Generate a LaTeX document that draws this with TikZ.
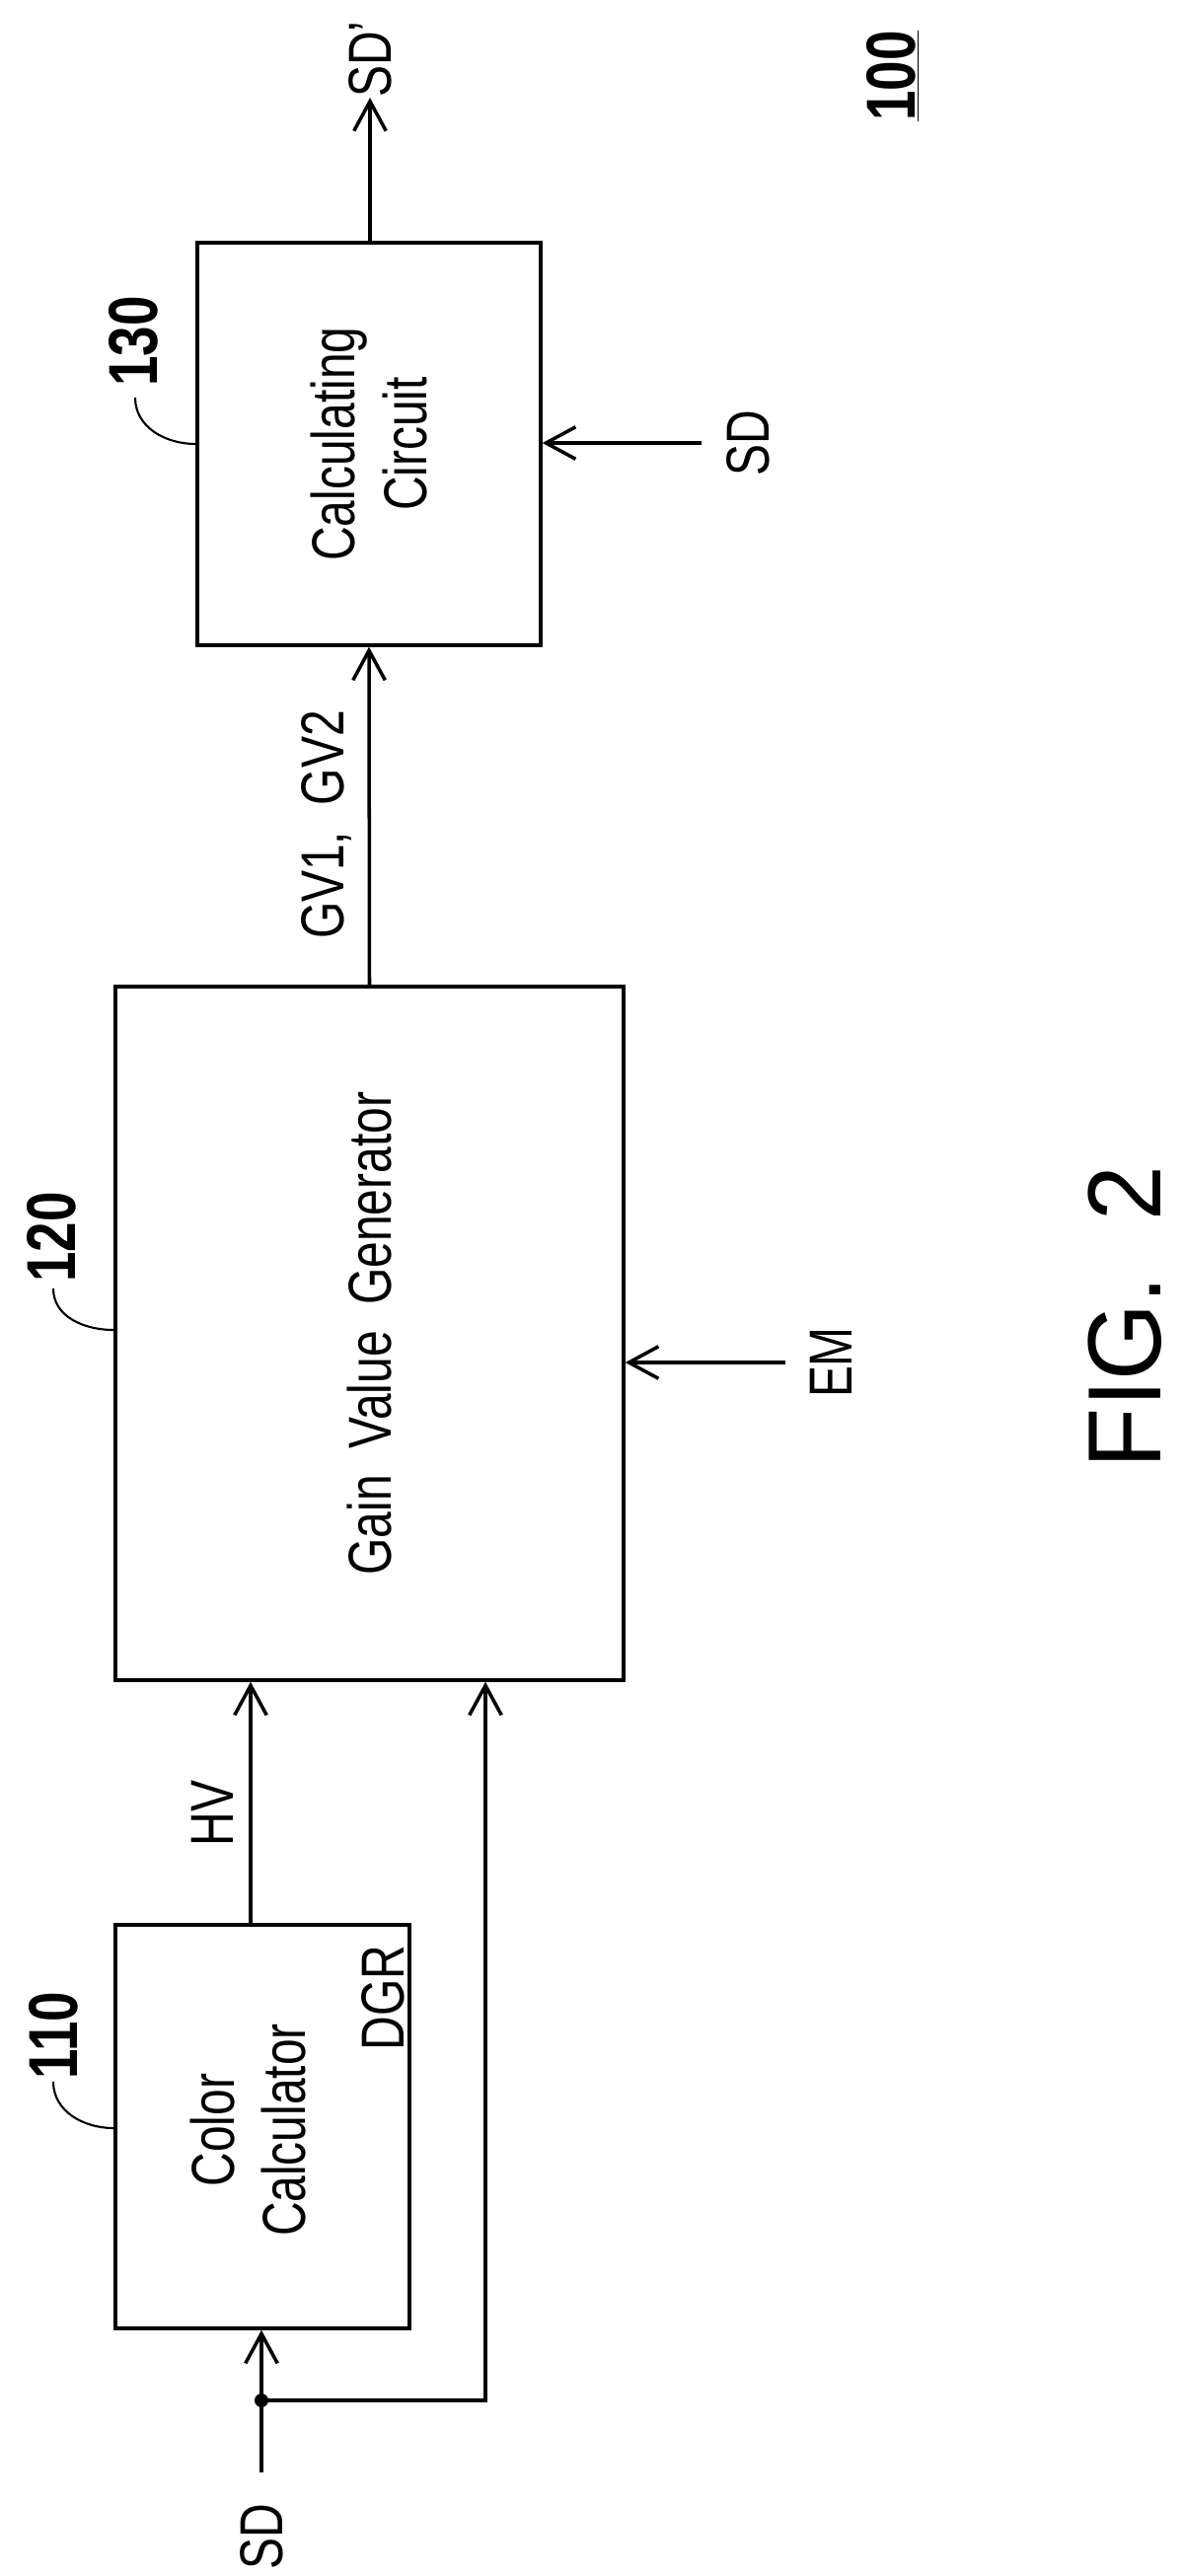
\documentclass[tikz,border=0pt]{standalone}
\usepackage{fontspec}
\setmainfont[FakeStretch=0.78]{Liberation Sans}
\newfontfamily\figfont[FakeStretch=0.95]{Liberation Sans}
\usetikzlibrary{arrows.meta}
\tikzset{
  box/.style={draw, line width=2pt, inner sep=0pt},
  txt/.style={rotate=90, font=\fontsize{35}{41}\selectfont, align=center},
  num/.style={rotate=90, font=\fontsize{40}{44}\selectfont\bfseries},
  arr/.style={line width=2pt, -{Straight Barb[length=0.6cm, width=0.65cm, line width=2pt]}},
  lead/.style={line width=1.2pt},
}
\begin{document}
\begin{tikzpicture}[x=0.02cm, y=-0.02cm]
\useasboundingbox (0,0) rectangle (1199,2611);

% blocks
\node[box, minimum width=6.96cm, minimum height=8.16cm] (cc) at (374,450) {};
\node[box, minimum width=10.3cm, minimum height=14.06cm] (gv) at (374.5,1351.5) {};
\node[box, minimum width=5.96cm, minimum height=8.18cm] (cl) at (266,2155.5) {};

\node[txt] at (cc) {Calculating\\Circuit};
\node[txt] at (gv) {Gain\ \ Value\ \ Generator};
\node[txt] at (252,2159) {Color\\Calculator};
\node[txt] (dgrlbl) at (388,2025) {DGR};

% reference numbers
\node[num] (n130) at (135,346) {130};
\node[num] (n120) at (52,1254) {120};
\node[num] (n110) at (54,2063) {110};
\node[num] (n100) at (905,77) {\underline{100}};
\draw[lead] (137,403) to[out=-90, in=180] (cc.west);
\draw[lead] (54,1306) to[out=-90, in=180] (115,1348);
\draw[lead] (54,2110) to[out=-90, in=180] (115,2157);

% signals
\coordinate (sdo) at (375,99);
\coordinate (sdin) at (711,449);
\coordinate (em) at (796,1381);
\coordinate (hv) at (254,0);
\coordinate (dg) at (492,0);
\coordinate (sdb) at (265,2506);
\coordinate (dot) at (265,2433);

\draw[arr] (cc.north -| sdo) -- (sdo);
\node[txt] (sdolbl) at (375,60) {SD'};
\draw[arr] (sdin) -- (cc.east |- sdin);
\node[txt] (sdinlbl) at (758,449) {SD};
\draw[arr] (gv.north) -- (cc.south);
\node[txt] (gvlbl) at (331,836) {GV1,\ \ GV2};
\draw[arr] (em) -- (gv.east |- em);
\node[txt] (emlbl) at (842,1381) {EM};
\draw[arr] (cl.north -| hv) -- (gv.south -| hv);
\node[txt] (hvlbl) at (215,1838) {HV};
\draw[arr] (sdb) -- (cl.south -| sdb);
\draw[arr] (dot) -| (gv.south -| dg);
\fill (dot) circle (0.14cm);
\node[txt] (sdblbl) at (265,2571) {SD};

\node[rotate=90, font=\fontsize{60}{66}\selectfont\figfont] (fig) at (1140,1335) {FIG.\ \ 2};
\end{tikzpicture}
\end{document}
